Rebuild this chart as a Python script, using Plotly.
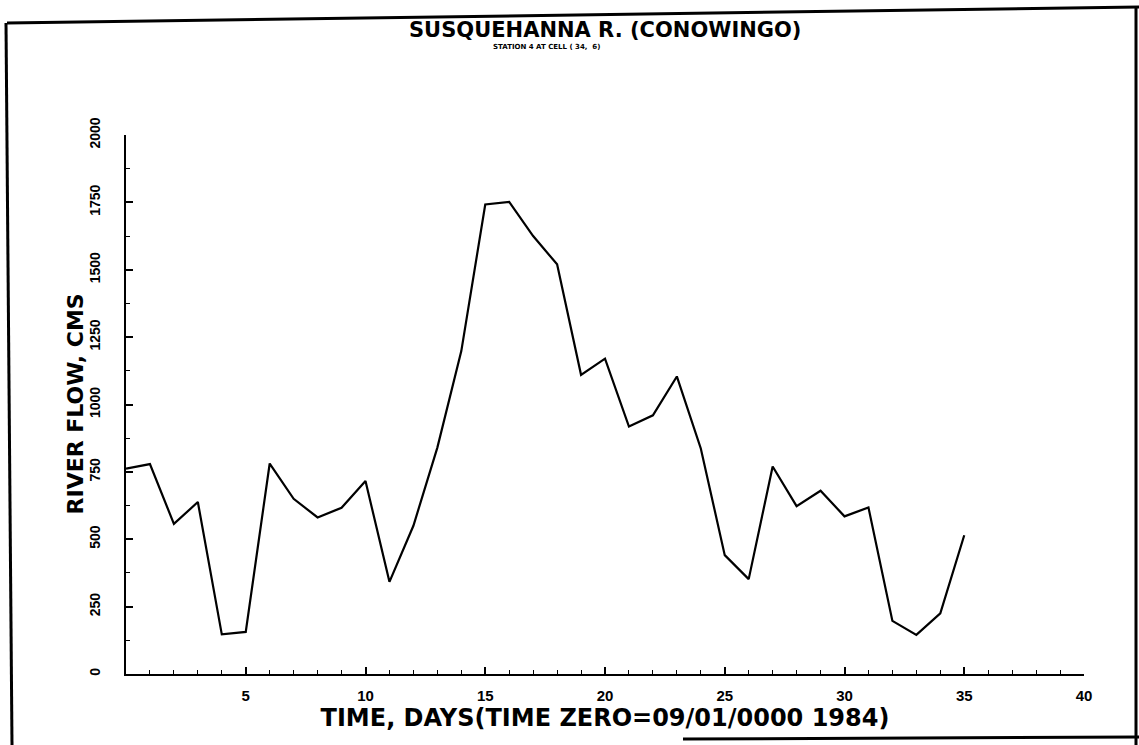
import plotly.graph_objects as go

# ---- data ----
days = list(range(0, 36))
flow_cms = [762, 779, 557, 638, 147, 156, 781, 650, 581, 617,
            716, 342, 550, 840, 1198, 1742, 1752, 1625, 1520, 1110,
            1170, 918, 960, 1104, 837, 441, 352, 770, 623, 680,
            585, 618, 197, 145, 225, 515]

x_tick_vals = [5, 10, 15, 20, 25, 30, 35, 40]
x_tick_text = ["5", "10", "15", "20", "25", "30", "35", "40"]
y_tick_vals = [0, 250, 500, 750, 1000, 1250, 1500, 1750, 2000]
y_tick_text = ["0", "250", "500", "750", "1000", "1250", "1500", "1750", "2000"]

title_text = "SUSQUEHANNA R. (CONOWINGO)"
subtitle_text = "STATION 4 AT CELL ( 34,  6)"
x_title = "TIME, DAYS(TIME ZERO=09/01/0000 1984)"
y_title = "RIVER FLOW, CMS"

# ---- layout geometry ----
W, H = 1139, 745
ML, MR, MT, MB = 126, 55, 135, 71
PW, PH = W - ML - MR, H - MT - MB


def px(xp):
    return (xp - ML) / PW


def py(yp):
    return (H - MB - yp) / PH


FONT = "Liberation Sans"
WIDE = "DejaVu Sans"

fig = go.Figure()
fig.add_trace(go.Scatter(
    x=days, y=flow_cms, mode="lines",
    line=dict(color="black", width=2.2),
    showlegend=False, hoverinfo="skip",
))

frame = [((7, 23), (1139, 7)),
         ((6, 23), (12, 745)),
         ((1136, 7), (1136, 745)),
         ((683, 739), (1139, 737))]
shapes = []
for (x0, y0), (x1, y1) in frame:
    shapes.append(dict(type="line", xref="paper", yref="paper",
                       x0=px(x0), y0=py(y0), x1=px(x1), y1=py(y1),
                       line=dict(color="black", width=3)))

fig.update_layout(
    width=W, height=H,
    margin=dict(l=ML, r=MR, t=MT, b=MB, autoexpand=False),
    paper_bgcolor="white", plot_bgcolor="white",
    font=dict(family=FONT, color="black", weight="bold"),
    shapes=shapes,
    annotations=[
        dict(text=title_text, xref="paper", yref="paper",
             x=0.5, y=py(30), xanchor="center", yanchor="middle",
             showarrow=False, font=dict(size=21, family=WIDE, weight="bold")),
        dict(text=subtitle_text, xref="paper", yref="paper",
             x=px(546), y=py(47), xanchor="center", yanchor="middle",
             showarrow=False, font=dict(size=7, family=WIDE, weight="bold")),
        dict(text=y_title, xref="paper", yref="paper",
             x=px(75), y=0.5, xanchor="center", yanchor="middle", textangle=-90,
             showarrow=False, font=dict(size=22, family=WIDE, weight="bold")),
    ],
)

fig.update_xaxes(
    range=[0, 40], showgrid=False, zeroline=False, automargin=False,
    showline=True, linecolor="black", linewidth=1.5,
    ticks="inside", ticklen=7, tickcolor="black", tickwidth=1.5,
    tickvals=x_tick_vals, ticktext=x_tick_text,
    tickfont=dict(size=15, family=FONT, weight="bold"),
    ticklabelstandoff=7,
    minor=dict(dtick=1, ticks="inside", ticklen=4, tickcolor="black", tickwidth=1),
    title=dict(text=x_title, font=dict(size=24, family=WIDE, weight="bold"), standoff=6),
)
fig.update_yaxes(
    range=[0, 2000], showgrid=False, zeroline=False, automargin=False,
    showline=True, linecolor="black", linewidth=1.5,
    ticks="inside", ticklen=7, tickcolor="black", tickwidth=1.5,
    tickvals=y_tick_vals, ticktext=y_tick_text, tickangle=-90,
    tickfont=dict(size=14, family=FONT, weight="bold"),
    ticklabelstandoff=19,
    minor=dict(tickvals=[125, 375, 625, 875, 1125, 1375, 1625, 1875],
               ticks="inside", ticklen=4, tickcolor="black", tickwidth=1),
)

fig.write_html("out.html", config={"displayModeBar": False},
               post_script="document.body.style.margin='0';")
